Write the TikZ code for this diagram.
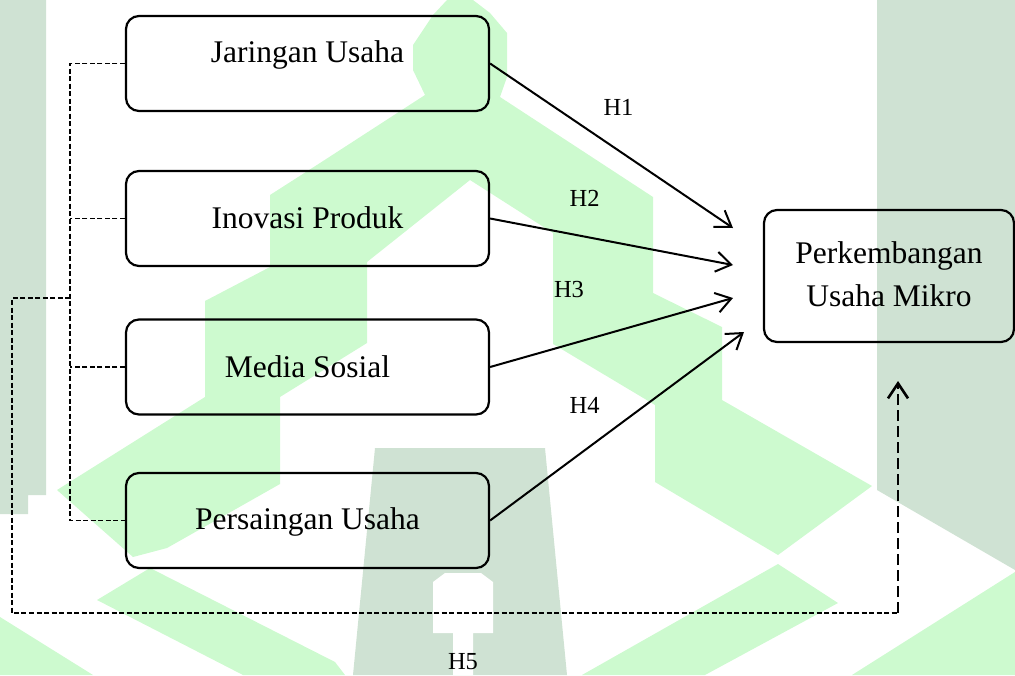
\documentclass[tikz,border=0pt]{standalone}
\usepackage{fontspec}
\setmainfont{Liberation Serif}
\usetikzlibrary{arrows.meta}
\definecolor{wmgreen}{RGB}{205,250,207}
\definecolor{wmgrey}{RGB}{207,226,211}
\begin{document}
\begin{tikzpicture}[x=1pt,y=-1pt,
  box/.style={draw, line width=2.2pt, rounded corners=13pt, minimum width=363pt, minimum height=95pt, inner sep=0pt},
  txt/.style={font=\fontsize{31.5}{38}\selectfont, inner sep=0pt, anchor=base},
  hlab/.style={font=\fontsize{24.5}{29}\selectfont, inner sep=0pt, anchor=base},
  arr/.style={line width=2pt, -{Straight Barb[length=15pt,width=20pt]}},
  thindash/.style={line width=1.3pt, dash pattern=on 5pt off 2.5pt},
  thickdash/.style={line width=2.6pt, dash pattern=on 11pt off 5pt, -{Straight Barb[length=15pt,width=20pt]}}]
\useasboundingbox (0,0) rectangle (1015,675);
% watermark
\fill[wmgrey] (0,0) -- (46,0) -- (46,495) -- (28,495) -- (28,514) -- (0,514) -- cycle;
\fill[wmgrey] (877,0) -- (1015,0) -- (1015,570) -- (877,490) -- cycle;
\fill[wmgrey] (375,448) -- (545,448) -- (567,675) -- (353,675) -- cycle;
\fill[white] (433,582) -- (445,573) -- (481,573) -- (493,582) -- (493,633) -- (473,633) -- (473,675) -- (453,675) -- (453,633) -- (433,633) -- cycle;
\fill[wmgreen] (447,0) -- (473,0) -- (490,13) -- (507,33) -- (507,77) -- (500,97) -- (653,197) -- (653,293) -- (722,327) -- (722,400) -- (872,486) -- (778,555) -- (655,482) -- (655,405) -- (553,344) -- (553,233) -- (470,180) -- (367,262) -- (367,343) -- (280,397) -- (280,484) -- (167,548) -- (133,557) -- (57,490) -- (205,397) -- (205,301) -- (270,267) -- (270,195) -- (320,163) -- (425,95) -- (413,70) -- (413,45) -- (433,15) -- cycle;
\fill[wmgreen] (97,600) -- (150,568) -- (335,662) -- (345,675) -- (243,675) -- cycle;
\fill[wmgreen] (0,617) -- (93,675) -- (0,675) -- cycle;
\fill[wmgreen] (582,675) -- (778,564) -- (838,603) -- (705,675) -- cycle;
\fill[wmgreen] (852,675) -- (1015,572) -- (1015,675) -- cycle;
% boxes
\node[box] (J) at (307.5,63.5) {};
\node[box] (I) at (307.5,218.5) {};
\node[box] (M) at (307.5,367) {};
\node[box] (P) at (307.5,520.5) {};
\node[box, minimum width=250pt, minimum height=132pt] (K) at (889,276) {};
\node[txt] (tJ) at (307.5,62) {Jaringan Usaha};
\node[txt] (tI) at (307.5,228) {Inovasi Produk};
\node[txt] (tM) at (307.5,377.5) {Media Sosial};
\node[txt] (tP) at (307.5,529.5) {Persaingan Usaha};
\node[txt] (tK1) at (889,263.5) {Perkembangan};
\node[txt] (tK2) at (889,306.5) {Usaha Mikro};
% arrow ends
\coordinate (e1) at (733,228);
\coordinate (e2) at (733,265);
\coordinate (e3) at (733,298);
\coordinate (e4) at (744,332);
\coordinate (bj) at (70,298);
\coordinate (c1) at (12,298);
\coordinate (c2) at (12,613);
\coordinate (c3) at (898,613);
\coordinate (e5) at (898,381);
% connectors
\draw[arr] (J.east) -- (e1);
\draw[arr] (I.east) -- (e2);
\draw[arr] (M.east) -- (e3);
\draw[arr] (P.east) -- (e4);
\draw[thindash] (J.west) -- (J.west -| bj) -- (P.west -| bj) -- (P.west);
\draw[thindash] (I.west) -- (I.west -| bj);
\draw[thindash] (M.west) -- (M.west -| bj);
\draw[thindash] (bj) -- (c1) -- (c2) -- (c3);
\draw[thickdash] (c3) -- (e5);
% labels
\node[hlab] (h1) at (618.5,115) {H1};
\node[hlab] (h2) at (584.7,206) {H2};
\node[hlab] (h3) at (569,297) {H3};
\node[hlab] (h4) at (584.7,413) {H4};
\node[hlab] (h5) at (463,669) {H5};
\end{tikzpicture}
\end{document}
